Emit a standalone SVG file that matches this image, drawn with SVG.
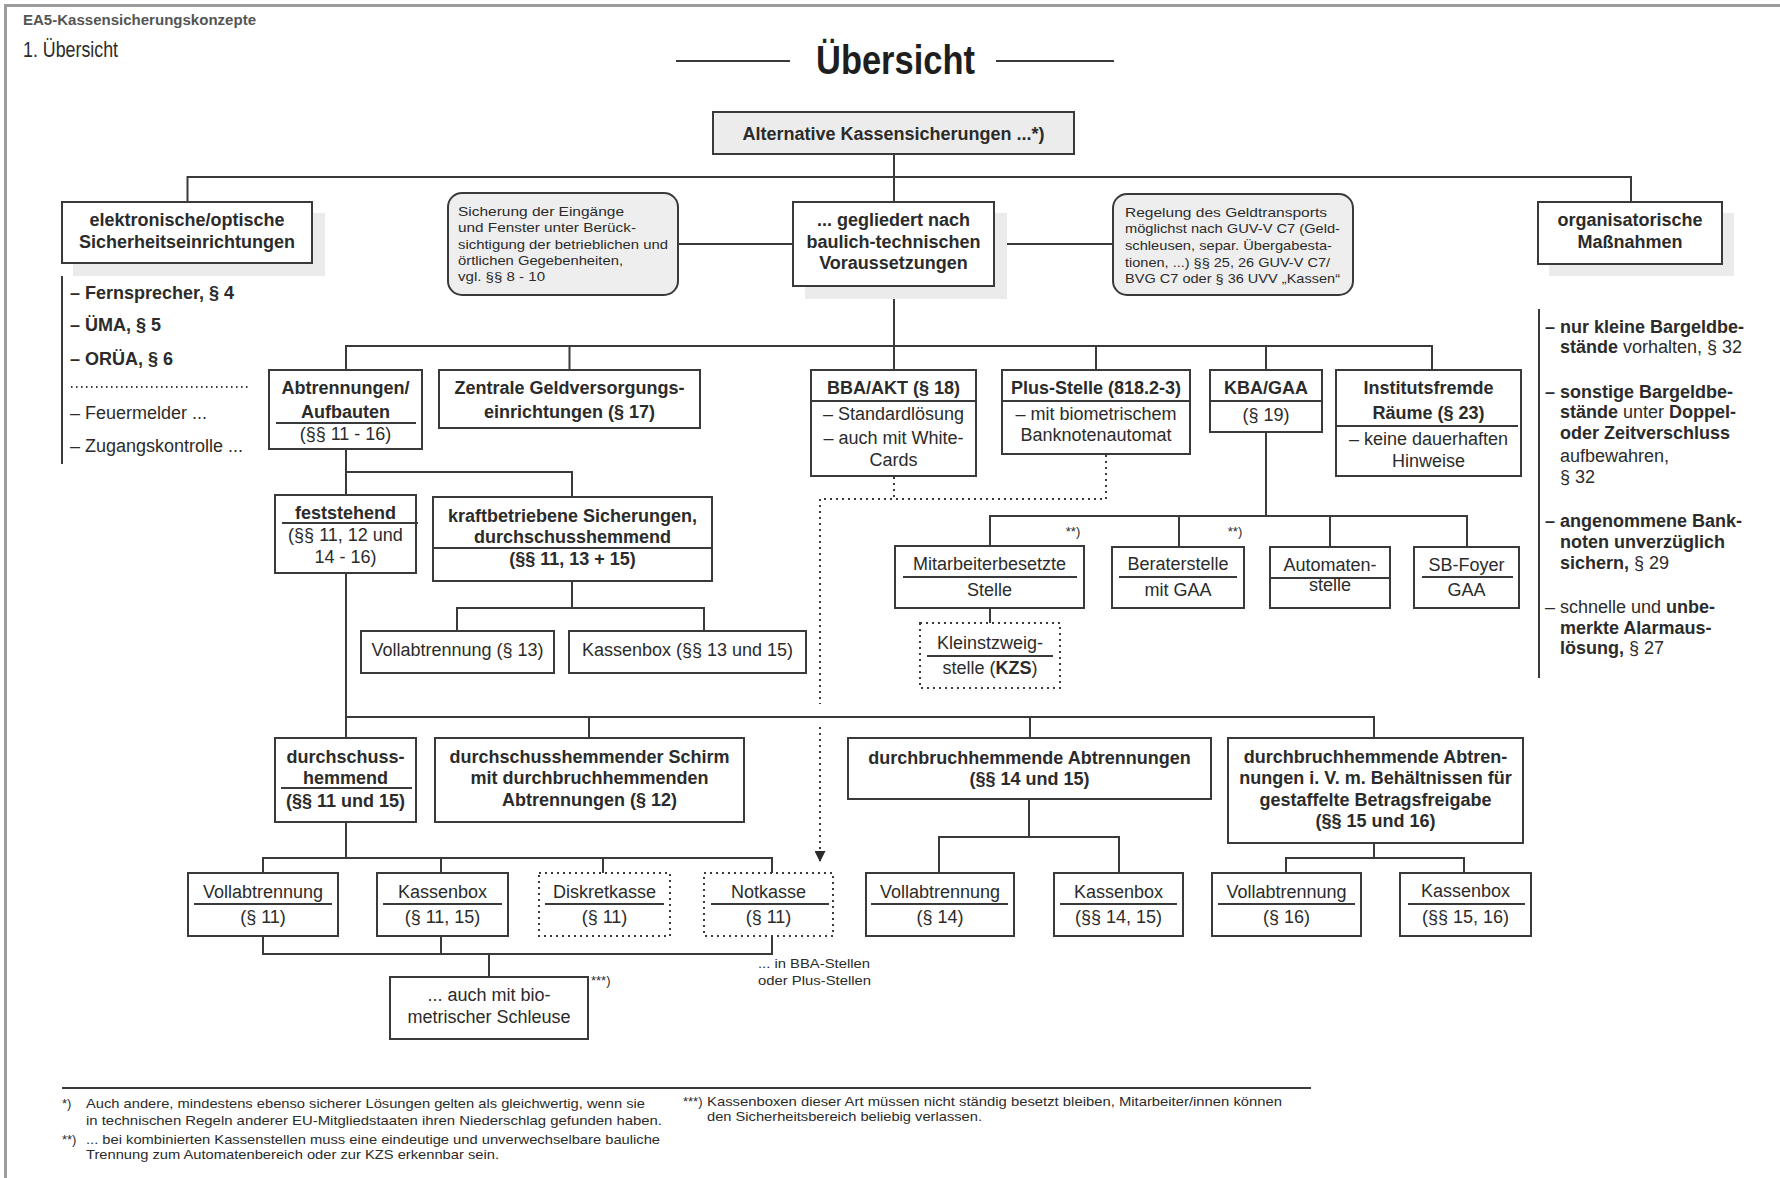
<svg xmlns="http://www.w3.org/2000/svg" width="1780" height="1178" viewBox="0 0 1780 1178">
<defs>
<style>
text{font-family:"Liberation Sans",Arial,sans-serif;fill:#2b2b2b}
.t{font-size:18px;text-anchor:middle}
.b{font-weight:bold}
.l{font-size:18px}
.s{font-size:13px}
.box{fill:#fff;stroke:#3a3a3a;stroke-width:2}
.gbox{fill:#ececec;stroke:#3a3a3a;stroke-width:2}
.dbox{fill:#fff;stroke:#3a3a3a;stroke-width:2;stroke-dasharray:2 4}
.sh{fill:#ebebeb}
.ln{fill:none;stroke:#3a3a3a;stroke-width:2}
.dl{fill:none;stroke:#3a3a3a;stroke-width:2;stroke-dasharray:2 4}
.dv{stroke:#3a3a3a;stroke-width:2}
</style>
<marker id="arr" viewBox="0 0 10 10" refX="10" refY="5" markerUnits="userSpaceOnUse" markerWidth="12" markerHeight="11" orient="auto"><path d="M0,0 L10,5 L0,10 z" fill="#2b2b2b"/></marker>
</defs>
<rect width="1780" height="1178" fill="#fff"/>
<path d="M5.5 1178 V5.5 H1780" fill="none" stroke="#9c9c9c" stroke-width="3"/>

<g id="header">
<text x="23" y="25" font-size="14.5" font-weight="bold" style="fill:#555" textLength="233" lengthAdjust="spacingAndGlyphs">EA5-Kassensicherungskonzepte</text>
<text x="23" y="57" font-size="22" textLength="95" lengthAdjust="spacingAndGlyphs">1. Übersicht</text>
<line x1="676" y1="61" x2="790" y2="61" class="dv"/>
<line x1="996" y1="61" x2="1114" y2="61" class="dv"/>
<text x="816" y="74" font-size="40" font-weight="bold" style="fill:#1e1e1e" textLength="159" lengthAdjust="spacingAndGlyphs">Übersicht</text>
</g>

<g id="connectors">
<path class="ln" d="M894 154 V202 M187.5 202 V177 H1631 V202 M678 244 H793 M994 244 H1113"/>
<path class="ln" d="M894 299 V370 M346 370 V346 H1432 V370 M569.5 346 V370 M1096 346 V370 M1266 346 V370"/>
<path class="ln" d="M346 449 V495 M346 472 H572 V497"/>
<path class="ln" d="M572 581 V608 M457 631 V608 H704 V631"/>
<path class="ln" d="M346 573 V738 M346 717 H1374 V738 M589 717 V738 M1030 717 V738"/>
<path class="ln" d="M346 822 V858 M263 873 V858 H772 V873 M441 858 V873 M603 858 V873"/>
<path class="ln" d="M263 936 V954 H772 V936 M441 936 V954 M489 954 V977"/>
<path class="ln" d="M1029 799 V837 M939 873 V837 H1119 V873"/>
<path class="ln" d="M1374 843 V858 M1286 873 V858 H1464 V873"/>
<path class="ln" d="M1266 432 V516 M990 546 V516 H1467 V547 M1179 516 V547 M1330 516 V547"/>
<path class="ln" d="M990 608 V623"/>
<path class="dl" d="M894 477 V499 M1106 455 V499 H820 V704"/>
<path class="dl" d="M820 727 V862" marker-end="url(#arr)"/>
</g>

<g id="n-root">
<rect class="gbox" x="713" y="112" width="361" height="42"/>
<text class="t b" x="893.5" y="140" font-size="19">Alternative Kassensicherungen ...*)</text>
</g>

<g id="n-elektronisch">
<rect class="sh" x="73" y="213" width="252" height="63"/>
<rect class="box" x="62" y="202" width="250" height="61"/>
<text class="t b" x="187" y="226" font-size="19">elektronische/optische</text>
<text class="t b" x="187" y="248" font-size="19">Sicherheitseinrichtungen</text>
</g>

<g id="n-liste-elektronisch">
<line x1="62" y1="276" x2="62" y2="464" class="dv"/>
<text class="l b" x="70" y="299">– Fernsprecher, § 4</text>
<text class="l b" x="70" y="331">– ÜMA, § 5</text>
<text class="l b" x="70" y="365">– ORÜA, § 6</text>
<line x1="71" y1="387" x2="249" y2="387" class="dv" stroke-width="1.5" stroke-dasharray="1.5 3.5"/>
<text class="l" x="70" y="419">– Feuermelder ...</text>
<text class="l" x="70" y="452">– Zugangskontrolle ...</text>
</g>

<g id="n-eingaenge">
<rect x="448" y="193" width="230" height="102" rx="14" fill="#eeeeee" stroke="#3a3a3a" stroke-width="2"/>
<text class="s" x="458" y="216" textLength="166" lengthAdjust="spacingAndGlyphs">Sicherung der Eingänge</text>
<text class="s" x="458" y="232" textLength="178" lengthAdjust="spacingAndGlyphs">und Fenster unter Berück-</text>
<text class="s" x="458" y="249" textLength="210" lengthAdjust="spacingAndGlyphs">sichtigung der betrieblichen und</text>
<text class="s" x="458" y="265" textLength="165" lengthAdjust="spacingAndGlyphs">örtlichen Gegebenheiten,</text>
<text class="s" x="458" y="281" textLength="87" lengthAdjust="spacingAndGlyphs">vgl. §§ 8 - 10</text>
</g>

<g id="n-baulich">
<rect class="sh" x="805" y="213" width="202" height="86"/>
<rect class="box" x="793" y="202" width="201" height="84"/>
<text class="t b" x="893.5" y="226" font-size="19">... gegliedert nach</text>
<text class="t b" x="893.5" y="248" font-size="19">baulich-technischen</text>
<text class="t b" x="893.5" y="269" font-size="19">Voraussetzungen</text>
</g>

<g id="n-geldtransport">
<rect x="1113" y="194" width="240" height="101" rx="14" fill="#eeeeee" stroke="#3a3a3a" stroke-width="2"/>
<text class="s" x="1125" y="217" textLength="202" lengthAdjust="spacingAndGlyphs">Regelung des Geldtransports</text>
<text class="s" x="1125" y="233" textLength="215" lengthAdjust="spacingAndGlyphs">möglichst nach GUV-V C7 (Geld-</text>
<text class="s" x="1125" y="250" textLength="207" lengthAdjust="spacingAndGlyphs">schleusen, separ. Übergabesta-</text>
<text class="s" x="1125" y="267" textLength="205" lengthAdjust="spacingAndGlyphs">tionen, ...) §§ 25, 26 GUV-V C7/</text>
<text class="s" x="1125" y="283" textLength="215" lengthAdjust="spacingAndGlyphs">BVG C7 oder § 36 UVV „Kassen“</text>
</g>

<g id="n-organisatorisch">
<rect class="sh" x="1549" y="213" width="185" height="63"/>
<rect class="box" x="1538" y="202" width="184" height="62"/>
<text class="t b" x="1630" y="226" font-size="19">organisatorische</text>
<text class="t b" x="1630" y="248" font-size="19">Maßnahmen</text>
</g>

<g id="n-liste-organisatorisch">
<line x1="1539" y1="309" x2="1539" y2="678" class="dv"/>
<text class="l b" x="1545" y="333">– nur kleine Bargeldbe-</text>
<text class="l" x="1560" y="353"><tspan class="b">stände</tspan> vorhalten, § 32</text>
<text class="l b" x="1545" y="398">– sonstige Bargeldbe-</text>
<text class="l" x="1560" y="418"><tspan class="b">stände</tspan> unter <tspan class="b">Doppel-</tspan></text>
<text class="l b" x="1560" y="439">oder Zeitverschluss</text>
<text class="l" x="1560" y="462">aufbewahren,</text>
<text class="l" x="1560" y="483">§ 32</text>
<text class="l b" x="1545" y="527">– angenommene Bank-</text>
<text class="l b" x="1560" y="548">noten unverzüglich</text>
<text class="l" x="1560" y="569"><tspan class="b">sichern,</tspan> § 29</text>
<text class="l" x="1545" y="613">– schnelle und <tspan class="b">unbe-</tspan></text>
<text class="l b" x="1560" y="634">merkte Alarmaus-</text>
<text class="l" x="1560" y="654"><tspan class="b">lösung,</tspan> § 27</text>
</g>

<g id="n-abtrennungen">
<rect class="box" x="269" y="370" width="153" height="79"/>
<line x1="276" y1="423" x2="416" y2="423" class="dv"/>
<text class="t b" x="345.5" y="394">Abtrennungen/</text>
<text class="t b" x="345.5" y="418">Aufbauten</text>
<text class="t" x="345.5" y="440">(§§ 11 - 16)</text>
</g>

<g id="n-zentrale">
<rect class="box" x="439" y="370" width="261" height="58"/>
<text class="t b" x="569.5" y="394">Zentrale Geldversorgungs-</text>
<text class="t b" x="569.5" y="418">einrichtungen (§ 17)</text>
</g>

<g id="n-bba">
<rect class="box" x="811" y="370" width="165" height="106"/>
<line x1="811" y1="401" x2="976" y2="401" class="dv"/>
<text class="t b" x="893.5" y="394">BBA/AKT (§ 18)</text>
<text class="t" x="893.5" y="420">– Standardlösung</text>
<text class="t" x="893.5" y="444">– auch mit White-</text>
<text class="t" x="893.5" y="466">Cards</text>
</g>

<g id="n-plus">
<rect class="box" x="1002" y="370" width="188" height="84"/>
<line x1="1002" y1="401" x2="1190" y2="401" class="dv"/>
<text class="t b" x="1096" y="394">Plus-Stelle (818.2-3)</text>
<text class="t" x="1096" y="420">– mit biometrischem</text>
<text class="t" x="1096" y="441">Banknotenautomat</text>
</g>

<g id="n-kba">
<rect class="box" x="1210" y="370" width="112" height="62"/>
<line x1="1210" y1="401" x2="1322" y2="401" class="dv"/>
<text class="t b" x="1266" y="394">KBA/GAA</text>
<text class="t" x="1266" y="421">(§ 19)</text>
</g>

<g id="n-institutsfremde">
<rect class="box" x="1336" y="370" width="185" height="106"/>
<line x1="1337" y1="426" x2="1518" y2="426" class="dv"/>
<text class="t b" x="1428.5" y="394">Institutsfremde</text>
<text class="t b" x="1428.5" y="419">Räume (§ 23)</text>
<text class="t" x="1428.5" y="445">– keine dauerhaften</text>
<text class="t" x="1428.5" y="467">Hinweise</text>
</g>

<g id="n-feststehend">
<rect class="box" x="275" y="495" width="141" height="78"/>
<line x1="282" y1="523" x2="418" y2="523" class="dv"/>
<text class="t b" x="345.5" y="519">feststehend</text>
<text class="t" x="345.5" y="541">(§§ 11, 12 und</text>
<text class="t" x="345.5" y="563">14 - 16)</text>
</g>

<g id="n-kraftbetrieben">
<rect class="box" x="433" y="497" width="279" height="84"/>
<line x1="433" y1="548" x2="712" y2="548" class="dv"/>
<text class="t b" x="572.5" y="522">kraftbetriebene Sicherungen,</text>
<text class="t b" x="572.5" y="543">durchschusshemmend</text>
<text class="t b" x="572.5" y="565">(§§ 11, 13 + 15)</text>
</g>

<g id="n-vollabtrennung13">
<rect class="box" x="361" y="631" width="193" height="42"/>
<text class="t" x="457.5" y="656">Vollabtrennung (§ 13)</text>
</g>

<g id="n-kassenbox13">
<rect class="box" x="569" y="631" width="237" height="42"/>
<text class="t" x="687.5" y="656">Kassenbox (§§ 13 und 15)</text>
</g>

<g id="n-mitarbeiter">
<rect class="box" x="895" y="546" width="189" height="62"/>
<line x1="903" y1="577" x2="1077" y2="577" class="dv"/>
<text class="t" x="989.5" y="570">Mitarbeiterbesetzte</text>
<text class="t" x="989.5" y="596">Stelle</text>
</g>

<g id="n-berater">
<rect class="box" x="1112" y="547" width="132" height="61"/>
<line x1="1119" y1="577" x2="1237" y2="577" class="dv"/>
<text class="t" x="1178" y="570">Beraterstelle</text>
<text class="t" x="1178" y="596">mit GAA</text>
</g>

<g id="n-automaten">
<rect class="box" x="1270" y="547" width="120" height="61"/>
<line x1="1270" y1="578" x2="1390" y2="578" class="dv"/>
<text class="t" x="1330" y="571">Automaten-</text>
<text class="t" x="1330" y="591">stelle</text>
</g>

<g id="n-sbfoyer">
<rect class="box" x="1414" y="547" width="105" height="61"/>
<line x1="1422" y1="577" x2="1513" y2="577" class="dv"/>
<text class="t" x="1466.5" y="571">SB-Foyer</text>
<text class="t" x="1466.5" y="596">GAA</text>
</g>

<g id="n-kzs">
<rect class="dbox" x="920" y="623" width="140" height="65"/>
<line x1="927" y1="656" x2="1053" y2="656" class="dv"/>
<text class="t" x="990" y="649">Kleinstzweig-</text>
<text class="t" x="990" y="674">stelle (<tspan class="b">KZS</tspan>)</text>
</g>

<g id="notes-kba">
<text x="1073" y="536" font-size="13" text-anchor="middle">**)</text>
<text x="1235" y="536" font-size="13" text-anchor="middle">**)</text>
</g>

<g id="n-durchschuss">
<rect class="box" x="275" y="738" width="141" height="84"/>
<line x1="281" y1="788" x2="412" y2="788" class="dv"/>
<text class="t b" x="345.5" y="763">durchschuss-</text>
<text class="t b" x="345.5" y="784">hemmend</text>
<text class="t b" x="345.5" y="807">(§§ 11 und 15)</text>
</g>

<g id="n-schirm">
<rect class="box" x="435" y="738" width="309" height="84"/>
<text class="t b" x="589.5" y="763">durchschusshemmender Schirm</text>
<text class="t b" x="589.5" y="784">mit durchbruchhemmenden</text>
<text class="t b" x="589.5" y="806">Abtrennungen (§ 12)</text>
</g>

<g id="n-durchbruch">
<rect class="box" x="848" y="738" width="363" height="61"/>
<text class="t b" x="1029.5" y="764">durchbruchhemmende Abtrennungen</text>
<text class="t b" x="1029.5" y="785">(§§ 14 und 15)</text>
</g>

<g id="n-gestaffelt">
<rect class="box" x="1228" y="738" width="295" height="105"/>
<text class="t b" x="1375.5" y="763">durchbruchhemmende Abtren-</text>
<text class="t b" x="1375.5" y="784">nungen i. V. m. Behältnissen für</text>
<text class="t b" x="1375.5" y="806">gestaffelte Betragsfreigabe</text>
<text class="t b" x="1375.5" y="827">(§§ 15 und 16)</text>
</g>

<g id="n-voll11">
<rect class="box" x="188" y="873" width="150" height="63"/>
<line x1="194" y1="904" x2="332" y2="904" class="dv"/>
<text class="t" x="263" y="898">Vollabtrennung</text>
<text class="t" x="263" y="923">(§ 11)</text>
</g>

<g id="n-kasse11">
<rect class="box" x="377" y="873" width="131" height="63"/>
<line x1="383" y1="904" x2="502" y2="904" class="dv"/>
<text class="t" x="442.5" y="898">Kassenbox</text>
<text class="t" x="442.5" y="923">(§ 11, 15)</text>
</g>

<g id="n-diskret">
<rect class="dbox" x="539" y="873" width="131" height="63"/>
<line x1="545" y1="904" x2="664" y2="904" class="dv"/>
<text class="t" x="604.5" y="898">Diskretkasse</text>
<text class="t" x="604.5" y="923">(§ 11)</text>
</g>

<g id="n-notkasse">
<rect class="dbox" x="704" y="873" width="129" height="63"/>
<line x1="711" y1="904" x2="829" y2="904" class="dv"/>
<text class="t" x="768.5" y="898">Notkasse</text>
<text class="t" x="768.5" y="923">(§ 11)</text>
</g>

<g id="n-voll14">
<rect class="box" x="866" y="873" width="148" height="63"/>
<line x1="871" y1="904" x2="1008" y2="904" class="dv"/>
<text class="t" x="940" y="898">Vollabtrennung</text>
<text class="t" x="940" y="923">(§ 14)</text>
</g>

<g id="n-kasse14">
<rect class="box" x="1054" y="873" width="129" height="63"/>
<line x1="1060" y1="904" x2="1177" y2="904" class="dv"/>
<text class="t" x="1118.5" y="898">Kassenbox</text>
<text class="t" x="1118.5" y="923">(§§ 14, 15)</text>
</g>

<g id="n-voll16">
<rect class="box" x="1212" y="873" width="149" height="63"/>
<line x1="1218" y1="904" x2="1355" y2="904" class="dv"/>
<text class="t" x="1286.5" y="898">Vollabtrennung</text>
<text class="t" x="1286.5" y="923">(§ 16)</text>
</g>

<g id="n-kasse16">
<rect class="box" x="1400" y="873" width="131" height="63"/>
<line x1="1408" y1="904" x2="1525" y2="904" class="dv"/>
<text class="t" x="1465.5" y="897">Kassenbox</text>
<text class="t" x="1465.5" y="923">(§§ 15, 16)</text>
</g>

<g id="n-biometrisch">
<rect class="box" x="390" y="977" width="198" height="62"/>
<text class="t" x="489" y="1001">... auch mit bio-</text>
<text class="t" x="489" y="1023">metrischer Schleuse</text>
<text x="591" y="985" font-size="13">***)</text>
</g>

<g id="note-bba">
<text class="s" x="758" y="968" textLength="112" lengthAdjust="spacingAndGlyphs">... in BBA-Stellen</text>
<text class="s" x="758" y="985" textLength="113" lengthAdjust="spacingAndGlyphs">oder Plus-Stellen</text>
</g>

<g id="footnotes">
<line x1="62" y1="1088" x2="1311" y2="1088" class="dv" stroke-width="1.5"/>
<text class="s" x="62" y="1108">*)</text>
<text class="s" x="86" y="1108" textLength="559" lengthAdjust="spacingAndGlyphs">Auch andere, mindestens ebenso sicherer Lösungen gelten als gleichwertig, wenn sie</text>
<text class="s" x="86" y="1125" textLength="576" lengthAdjust="spacingAndGlyphs">in technischen Regeln anderer EU-Mitgliedstaaten ihren Niederschlag gefunden haben.</text>
<text class="s" x="62" y="1144">**)</text>
<text class="s" x="86" y="1144" textLength="574" lengthAdjust="spacingAndGlyphs">... bei kombinierten Kassenstellen muss eine eindeutige und unverwechselbare bauliche</text>
<text class="s" x="86" y="1159" textLength="413" lengthAdjust="spacingAndGlyphs">Trennung zum Automatenbereich oder zur KZS erkennbar sein.</text>
<text class="s" x="683" y="1106">***)</text>
<text class="s" x="707" y="1106" textLength="575" lengthAdjust="spacingAndGlyphs">Kassenboxen dieser Art müssen nicht ständig besetzt bleiben, Mitarbeiter/innen können</text>
<text class="s" x="707" y="1121" textLength="275" lengthAdjust="spacingAndGlyphs">den Sicherheitsbereich beliebig verlassen.</text>
</g>
</svg>
